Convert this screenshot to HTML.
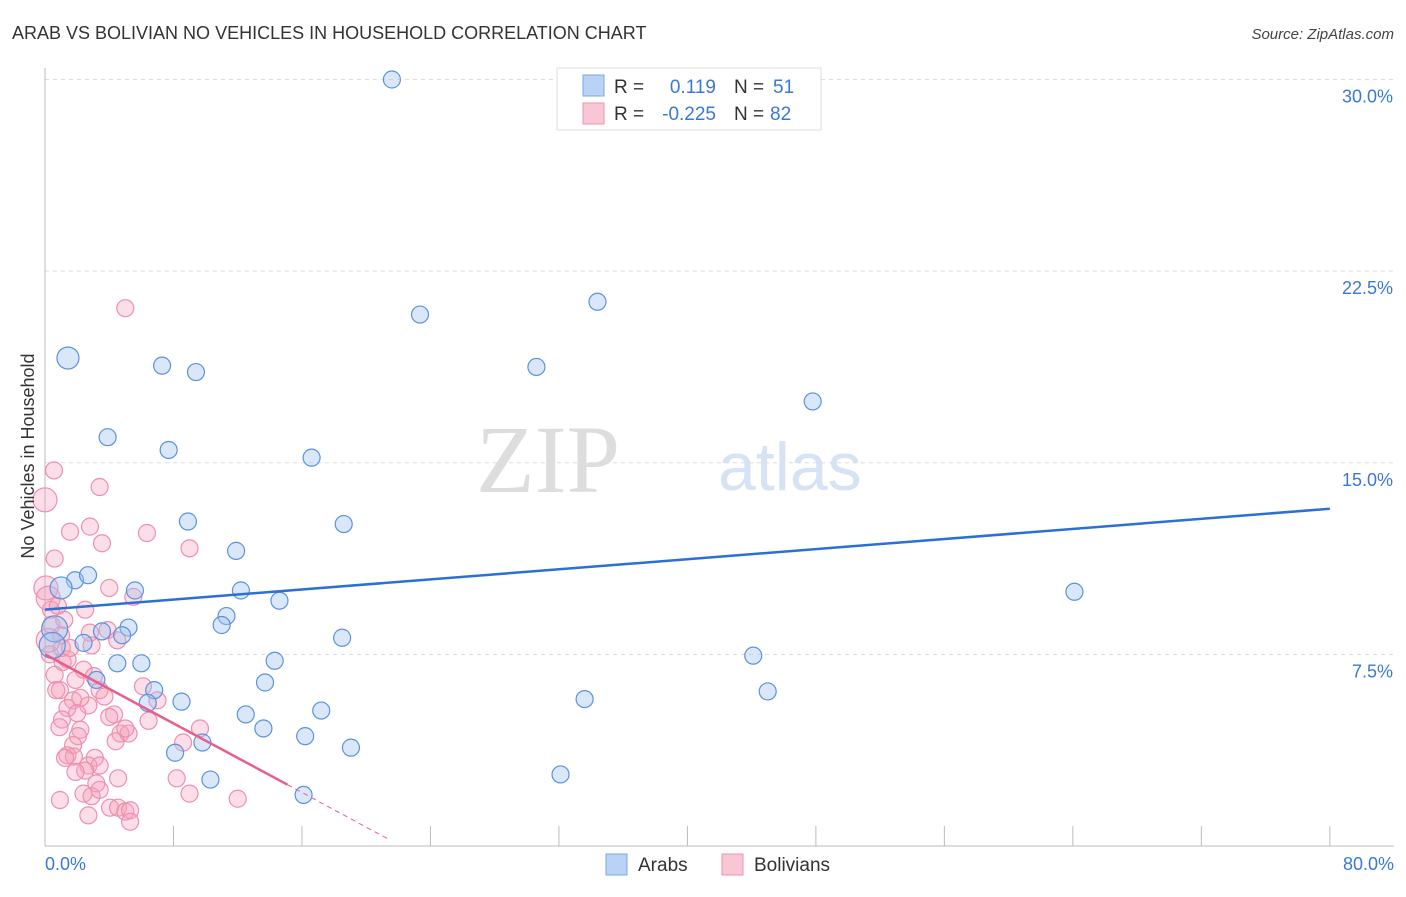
<!DOCTYPE html>
<html><head><meta charset="utf-8"><style>
body{margin:0;background:#fff;font-family:"Liberation Sans",sans-serif}
svg text{font-family:"Liberation Sans",sans-serif}
</style></head><body>
<svg width="1406" height="892" viewBox="0 0 1406 892">
<text x="12" y="39" font-size="18" fill="#333">ARAB VS BOLIVIAN NO VEHICLES IN HOUSEHOLD CORRELATION CHART</text>
<text x="1394" y="39" font-size="15" fill="#444" font-style="italic" text-anchor="end">Source: ZipAtlas.com</text>
<text x="620" y="492" font-size="96" fill="#ddd" text-anchor="end" font-family="Liberation Serif" style="font-family:'Liberation Serif',serif">ZIP</text>
<text x="718" y="490" font-size="68" fill="#d5e3f5">atlas</text>
<g id="grid"></g><g id="axes"></g><g id="pts"></g><g id="lines"></g>
<text transform="translate(34,456) rotate(-90)" font-size="18" fill="#333" text-anchor="middle">No Vehicles in Household</text>
<text x="45" y="870" font-size="18" fill="#3a78d8">0.0%</text>
<text x="1394" y="870" font-size="18" fill="#3a78d8" text-anchor="end">80.0%</text>
<g>
<rect x="557" y="68" width="264" height="62" fill="#fff" stroke="#ddd"/>
<rect x="583" y="75" width="21" height="21" fill="#b9d3f5" stroke="#7aa7e6"/>
<rect x="583" y="103" width="21" height="21" fill="#f8c6d5" stroke="#ee93b0"/>
<text x="614" y="93" font-size="19" fill="#333">R =</text><text x="716" y="93" font-size="19" fill="#3a78d8" text-anchor="end">0.119</text>
<text x="734" y="93" font-size="19" fill="#333">N =</text><text x="773" y="93" font-size="19" fill="#3a78d8">51</text>
<text x="614" y="120" font-size="19" fill="#333">R =</text><text x="716" y="120" font-size="19" fill="#3a78d8" text-anchor="end">-0.225</text>
<text x="734" y="120" font-size="19" fill="#333">N =</text><text x="770" y="120" font-size="19" fill="#3a78d8">82</text>
</g>
<g>
<rect x="606" y="854" width="21" height="21" fill="#b9d3f5" stroke="#7aa7e6"/>
<text x="638" y="871" font-size="19" fill="#333">Arabs</text>
<rect x="722" y="854" width="21" height="21" fill="#f8c6d5" stroke="#ee93b0"/>
<text x="754" y="871" font-size="19" fill="#333">Bolivians</text>
</g>
</svg>
<script>
const yTicks=[7.5,15,22.5,30];
const yTickLabels=["7.5%","15.0%","22.5%","30.0%"];
const xTicks=[0,8,16,24,32,40,48,56,64,72,80];
const arabX=[21.6,1.43,7.29,9.4,23.35,34.4,30.6,47.8,3.9,7.7,16.6,8.9,18.6,11.9,64.1,1.87,2.68,1.0,5.6,12.2,14.6,11.3,11.0,5.2,3.55,4.8,0.6,0.45,18.5,2.4,4.5,6.0,14.3,44.1,3.2,6.8,13.7,45.0,8.5,6.4,33.6,12.5,17.2,13.6,16.2,9.8,19.05,8.1,10.3,32.1,16.1];
const arabY=[30.0,19.1,18.8,18.55,20.8,21.3,18.75,17.4,16.0,15.5,15.2,12.7,12.6,11.55,9.95,10.4,10.6,10.1,10.0,10.0,9.6,9.0,8.65,8.55,8.4,8.25,8.5,7.85,8.15,7.95,7.15,7.15,7.25,7.45,6.5,6.1,6.4,6.05,5.65,5.6,5.75,5.15,5.3,4.6,4.3,4.05,3.85,3.65,2.6,2.8,2.0];
const bolX=[5.0,0.56,0,3.4,1.56,2.8,6.35,3.55,9.0,0.6,0.06,4.0,5.5,0.37,2.5,0.4,1.0,2.8,3.9,4.5,0.3,1.1,2.9,1.4,0.6,2.4,1.9,3.05,3.4,0.93,6.1,7.0,3.7,1.75,2.7,1.4,4.3,2.0,4.0,1.06,6.45,0.9,9.65,2.2,2.05,4.7,5.2,8.6,4.4,1.75,1.4,1.8,3.1,1.25,2.7,3.4,2.5,1.9,4.55,8.2,3.2,2.4,2.9,9.0,12.0,4.05,4.55,5.0,5.3,2.7,5.3,0.93,0.2,0.2,0.8,1.05,1.56,0.7,5.0,3.4,1.2,2.2];
const bolY=[21.05,14.7,13.55,14.05,12.3,12.5,12.25,11.85,11.65,11.25,10.1,10.1,9.75,9.25,9.25,8.65,8.25,8.35,8.45,8.05,7.5,7.2,7.85,7.3,6.7,6.9,6.5,6.65,6.1,6.1,6.25,5.7,5.85,5.7,5.5,5.4,5.15,5.2,5.05,4.95,4.9,4.65,4.6,4.55,4.3,4.4,4.4,4.05,4.1,3.95,3.55,3.5,3.45,3.45,3.15,3.15,2.95,2.9,2.65,2.65,2.45,2.05,1.95,2.05,1.85,1.5,1.5,1.35,1.4,1.2,0.95,1.8,8.05,9.7,9.4,7.75,7.75,6.1,4.6,2.2,8.85,5.8];
const arabTrend=[9.25,13.2];
const bolTrend=[7.5,2.4,0.23];
const bolTrendX=[0,15.1,21.5];
const X=v=>45+v*16.06, Y=v=>846-v*25.55;
const NS="http://www.w3.org/2000/svg";
function mk(t,a,p){const e=document.createElementNS(NS,t);for(const k in a)e.setAttribute(k,a[k]);p.appendChild(e);return e;}
const grid=document.getElementById('grid'),axes=document.getElementById('axes'),pts=document.getElementById('pts'),lines=document.getElementById('lines');
yTicks.forEach((t,i)=>{
 const l=mk('line',{x1:45,x2:1394,y1:Y(t),y2:Y(t),stroke:'#ddd','stroke-dasharray':'4,4'},grid);
 
 
 const tx=mk('text',{x:1393,y:Y(t)+23,'font-size':18,fill:'#3a78d8','text-anchor':'end'},grid);
 tx.textContent=yTickLabels[i];
 
 
});
const ya=mk('line',{x1:45,x2:45,y1:68,y2:846,stroke:'#bbb'},axes);


const xa=mk('line',{x1:45,x2:1394,y1:846,y2:846,stroke:'#bbb'},axes);


xTicks.forEach(t=>{
 const l=mk('line',{x1:X(t),x2:X(t),y1:826,y2:846,stroke:'#bbb'},axes);
 
 
});
bolX.forEach((x,i)=>{
 const c=mk('circle',{cx:X(x),cy:Y(bolY[i]),r:(x<0.3?12:8.5),fill:'rgba(244,160,186,0.35)',stroke:'#ee8fae','stroke-width':1.2},pts);
 
 
});
arabX.forEach((x,i)=>{
 const big=(i==1||i==17)?11:((i==26||i==27)?13:8.5);
 const c=mk('circle',{cx:X(x),cy:Y(arabY[i]),r:big,fill:'rgba(160,195,240,0.4)',stroke:'#5b92de','stroke-width':1.2},pts);
 
 
});
const al=mk('line',{x1:X(0),y1:Y(arabTrend[0]),x2:X(80),y2:Y(arabTrend[1]),stroke:'#2c6fd6','stroke-width':2.5},lines);


const bl=mk('line',{x1:X(bolTrendX[0]),y1:Y(bolTrend[0]),x2:X(bolTrendX[1]),y2:Y(bolTrend[1]),stroke:'#e85f8a','stroke-width':2.5},lines);


const bd=mk('line',{x1:X(bolTrendX[1]),y1:Y(bolTrend[1]),x2:X(bolTrendX[2]),y2:Y(bolTrend[2]),stroke:'#e85f8a','stroke-width':1,'stroke-dasharray':'5,4'},lines);


</script>
</body></html>
